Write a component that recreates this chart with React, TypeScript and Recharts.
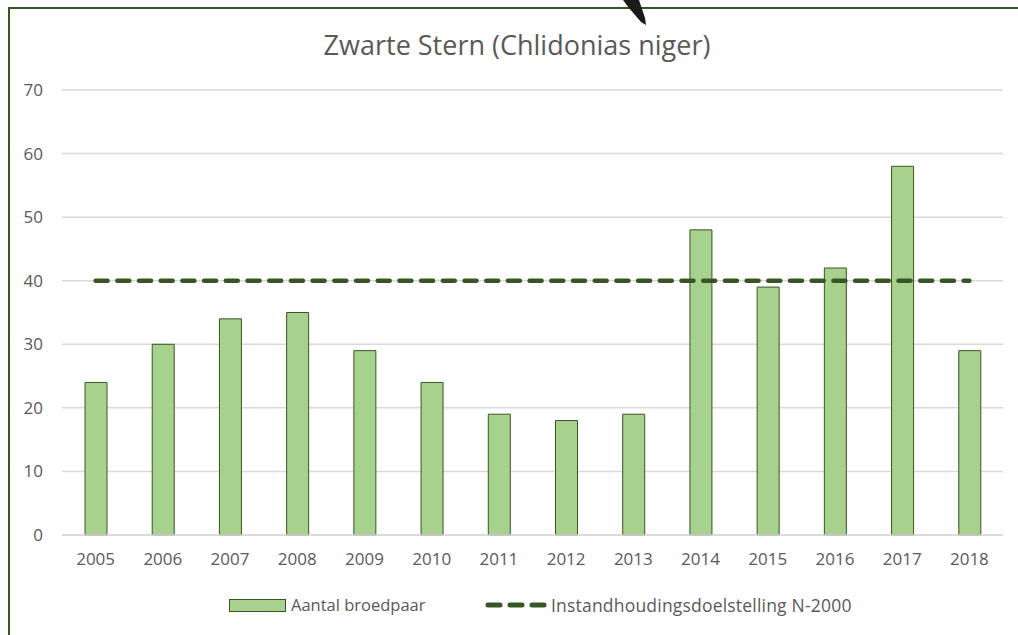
import React from "react";
import { ComposedChart, Bar, Line, XAxis, YAxis, CartesianGrid, Legend } from "recharts";

const years = ["2005", "2006", "2007", "2008", "2009", "2010", "2011", "2012", "2013", "2014", "2015", "2016", "2017", "2018"];
const broedpaar = [24, 30, 34, 35, 29, 24, 19, 18, 19, 48, 39, 42, 58, 29];
const doelstelling = [40, 40, 40, 40, 40, 40, 40, 40, 40, 40, 40, 40, 40, 40];
const yTicks = [0, 10, 20, 30, 40, 50, 60, 70];

const data = years.map((y, i) => ({ year: y, broedpaar: broedpaar[i], doel: doelstelling[i] }));

const FONT = "'Open Sans', sans-serif";
const TEXT = "#595959";
const DARK = "#375623";
const BAR = "#a9d18e";

const LegendContent = () => (
  <div style={{ position: "relative", fontFamily: FONT, fontSize: 16.5, color: TEXT }}>
    <div style={{ position: "absolute", left: 229, top: 5, width: 57, height: 13, background: BAR, border: `1px solid ${DARK}`, boxSizing: "border-box" }} />
    <div style={{ position: "absolute", left: 291, top: 0, whiteSpace: "nowrap", lineHeight: "22px" }}>Aantal broedpaar</div>
    <svg style={{ position: "absolute", left: 484, top: 4 }} width={64} height={14}>
      <line x1={4} y1={7} x2={60} y2={7} stroke={DARK} strokeWidth={5} strokeDasharray="12 10" strokeLinecap="round" />
    </svg>
    <div style={{ position: "absolute", left: 551, top: 0, whiteSpace: "nowrap", lineHeight: "22px", fontSize: 17.5, letterSpacing: 0.2 }}>Instandhoudingsdoelstelling N-2000</div>
  </div>
);

export default function App() {
  return (
    <div style={{ position: "absolute", left: 0, top: 0, width: 1018, height: 635, background: "#fff", overflow: "hidden" }}>
      <div style={{ position: "absolute", left: 8, top: 7, width: 1010, height: 2, background: DARK }} />
      <div style={{ position: "absolute", left: 8, top: 7, width: 2, height: 628, background: DARK }} />
      <svg style={{ position: "absolute", left: 615, top: 0 }} width={40} height={30}>
        <path d="M 8 0 L 24 0 L 30 18 L 31 25 L 26 22 L 14 8 Z" fill="#1a1a1a" />
      </svg>
      <div style={{ position: "absolute", left: 0, width: 1018, top: 27, textAlign: "center", fontFamily: FONT, fontSize: 27, lineHeight: "36px", color: TEXT, paddingLeft: 16, boxSizing: "border-box" }}>
        Zwarte Stern (Chlidonias niger)
      </div>
      <div style={{ position: "absolute", left: 0, top: 0 }}>
        <ComposedChart width={1018} height={635} data={data} margin={{ top: 90, right: 15, bottom: 45, left: 0 }} barCategoryGap={0}>
          <CartesianGrid vertical={false} stroke="#d9d9d9" strokeWidth={1.5} />
          <XAxis
            dataKey="year"
            axisLine={{ stroke: "#d9d9d9", strokeWidth: 1.5 }}
            tickLine={false}
            tickSize={0}
            tickMargin={18}
            interval={0}
            tick={{ fill: TEXT, fontSize: 17, fontFamily: FONT }}
            height={30}
          />
          <YAxis
            width={62}
            domain={[0, 70]}
            ticks={yTicks}
            axisLine={false}
            tickLine={false}
            tickSize={0}
            tickMargin={19}
            tick={{ fill: TEXT, fontSize: 17, fontFamily: FONT }}
          />
          <Bar dataKey="broedpaar" fill={BAR} stroke={DARK} strokeWidth={1} barSize={22} isAnimationActive={false} />
          <Line dataKey="doel" stroke={DARK} strokeWidth={4.5} strokeDasharray="12 9.7" strokeLinecap="round" dot={false} activeDot={false} isAnimationActive={false} />
          <Legend verticalAlign="bottom" content={<LegendContent />} wrapperStyle={{ position: "absolute", left: 0, top: 594, width: 1018, height: 25 }} />
        </ComposedChart>
      </div>
    </div>
  );
}
